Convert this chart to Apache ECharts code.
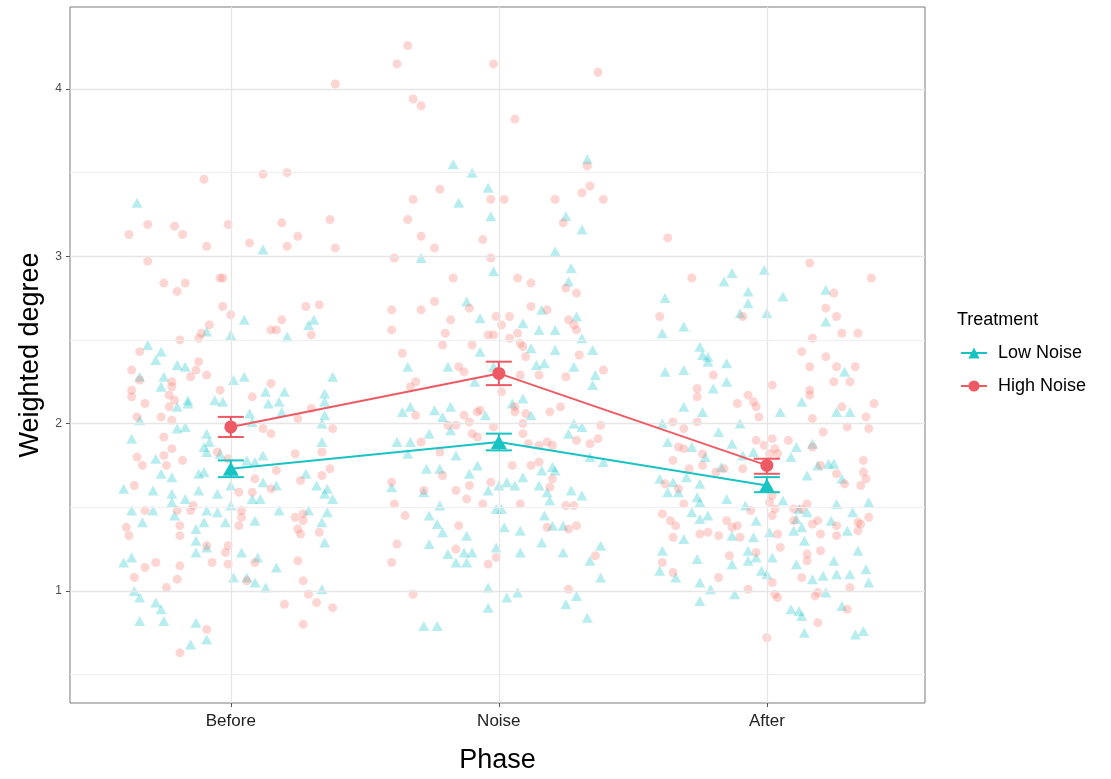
<!DOCTYPE html>
<html>
<head>
<meta charset="utf-8">
<script src="https://cdn.jsdelivr.net/npm/echarts@6/dist/echarts.min.js"></script>
<style>
html,body{margin:0;padding:0;background:#fff;}
#chart{width:1111px;height:779px;}
</style>
</head>
<body>
<div id="chart"></div>
<script>
// ---- Data ----
const phaseLabels = ['Before', 'Noise', 'After'];
const phasePos = [1, 2, 3];
const yTicks = [1, 2, 3, 4];
const yMinor = [0.5, 1.5, 2.5, 3.5];

const lowMean = [1.73, 1.89, 1.63];
const lowLo = [1.68, 1.84, 1.59];
const lowHi = [1.78, 1.94, 1.68];
const highMean = [1.98, 2.30, 1.75];
const highLo = [1.92, 2.23, 1.70];
const highHi = [2.04, 2.37, 1.79];

const beforeHigh = [[1.39,4.03],[0.90,3.46],[1.12,3.49],[1.21,3.50],[0.62,3.13],[0.69,3.19],[0.79,3.18],[0.82,3.13],[0.91,3.06],[0.99,3.19],[1.07,3.08],[1.19,3.20],[1.21,3.06],[1.25,3.12],[1.37,3.22],[1.39,3.05],[0.69,2.97],[0.75,2.84],[0.80,2.79],[0.83,2.84],[0.96,2.87],[0.97,2.87],[0.97,2.70],[1.00,2.65],[0.92,2.59],[0.81,2.50],[0.88,2.51],[0.89,2.54],[1.15,2.56],[1.17,2.56],[1.19,2.62],[1.28,2.70],[1.33,2.71],[1.30,2.53],[0.66,2.43],[0.63,2.32],[0.66,2.26],[0.63,2.20],[0.63,2.16],[0.68,2.12],[0.65,2.04],[0.74,2.04],[0.78,2.25],[0.78,2.22],[0.77,2.17],[0.79,2.14],[0.77,2.10],[0.78,2.02],[0.88,2.37],[0.87,2.32],[0.85,2.28],[0.91,2.29],[0.96,2.20],[1.08,2.16],[1.15,2.24],[1.25,2.03],[1.30,2.09],[1.38,1.97],[1.34,1.83],[1.37,1.73],[1.34,1.69],[1.26,1.66],[1.24,1.82],[1.15,1.61],[1.09,1.67],[1.08,1.59],[1.03,1.59],[0.95,1.83],[0.99,1.79],[0.78,1.85],[0.82,1.78],[0.75,1.81],[0.65,1.80],[0.67,1.75],[0.64,1.63],[0.76,1.75],[0.75,1.92],[1.12,1.97],[1.15,1.94],[1.17,1.72],[0.68,1.48],[0.80,1.48],[0.85,1.48],[0.86,1.51],[1.04,1.48],[1.27,1.46],[0.61,1.38],[0.62,1.33],[0.81,1.39],[0.81,1.33],[0.91,1.27],[0.99,1.27],[0.98,1.23],[1.04,1.44],[1.03,1.39],[0.72,1.17],[0.68,1.14],[0.64,1.08],[0.81,1.15],[0.80,1.07],[0.76,1.02],[0.93,1.17],[0.99,1.16],[1.06,1.06],[1.09,1.17],[1.24,1.44],[1.27,1.42],[1.25,1.37],[1.26,1.34],[1.33,1.35],[1.25,1.18],[1.27,1.06],[1.29,0.98],[1.32,0.93],[1.38,0.90],[1.20,0.92],[1.27,0.80],[0.91,0.77],[0.81,0.63]];

const beforeLow = [[0.65,3.32],[1.12,3.04],[1.05,2.62],[0.91,2.55],[1.00,2.53],[1.21,2.52],[1.29,2.59],[1.31,2.62],[0.69,2.47],[0.74,2.43],[0.72,2.38],[0.80,2.35],[0.83,2.34],[0.66,2.28],[0.75,2.28],[0.74,2.22],[0.84,2.14],[0.80,2.10],[0.84,2.12],[0.94,2.14],[0.97,2.13],[1.01,2.26],[1.05,2.28],[1.13,2.19],[1.20,2.19],[1.18,2.13],[1.14,2.12],[1.19,2.07],[1.38,2.28],[1.35,2.18],[1.35,2.13],[1.35,2.05],[1.34,2.00],[1.34,1.89],[1.07,2.06],[1.08,2.01],[0.66,2.02],[0.63,1.91],[0.83,1.98],[0.80,1.97],[0.91,1.94],[0.92,1.89],[0.90,1.86],[0.91,1.83],[0.96,1.82],[1.06,1.78],[1.12,1.81],[1.09,1.77],[0.72,1.79],[0.74,1.70],[0.78,1.68],[0.90,1.71],[0.88,1.70],[0.60,1.61],[0.71,1.60],[0.78,1.58],[0.83,1.55],[0.88,1.60],[0.95,1.58],[1.00,1.63],[1.12,1.65],[1.08,1.55],[1.11,1.55],[1.17,1.63],[1.28,1.70],[1.32,1.63],[1.36,1.61],[1.35,1.58],[1.38,1.55],[0.63,1.48],[0.71,1.48],[0.78,1.53],[0.91,1.48],[0.95,1.47],[1.00,1.51],[1.18,1.48],[1.29,1.48],[1.36,1.47],[0.67,1.41],[0.79,1.45],[0.87,1.37],[0.90,1.41],[0.98,1.41],[1.09,1.42],[1.34,1.41],[1.35,1.29],[0.87,1.30],[0.87,1.23],[0.91,1.26],[1.04,1.23],[1.10,1.20],[1.17,1.14],[1.01,1.08],[1.06,1.08],[1.09,1.05],[1.13,1.02],[0.60,1.17],[0.63,1.20],[0.64,1.00],[0.66,0.96],[0.72,0.93],[0.74,0.89],[0.66,0.82],[0.75,0.82],[0.87,0.81],[0.91,0.71],[0.85,0.68],[1.34,1.01]];

const noiseHigh = [[1.66,4.26],[1.62,4.15],[1.98,4.15],[2.37,4.10],[1.68,3.94],[1.71,3.90],[2.06,3.82],[2.33,3.54],[2.34,3.42],[2.31,3.38],[2.39,3.34],[2.21,3.34],[2.02,3.34],[1.97,3.34],[1.78,3.40],[1.68,3.34],[1.66,3.22],[1.71,3.12],[1.76,3.05],[1.94,3.10],[2.24,3.20],[1.61,2.99],[1.97,2.99],[1.83,2.87],[2.07,2.87],[2.12,2.84],[2.25,2.81],[2.29,2.78],[1.60,2.68],[1.71,2.68],[1.76,2.73],[1.89,2.69],[2.12,2.70],[2.18,2.68],[1.82,2.62],[1.99,2.64],[2.04,2.64],[2.01,2.59],[2.26,2.62],[2.28,2.59],[2.29,2.56],[1.60,2.56],[1.80,2.54],[1.96,2.53],[1.98,2.53],[2.07,2.54],[2.04,2.51],[2.08,2.48],[2.09,2.46],[1.79,2.47],[1.90,2.47],[1.64,2.42],[2.10,2.40],[2.30,2.41],[1.85,2.34],[1.87,2.31],[2.39,2.32],[2.08,2.29],[2.15,2.29],[2.25,2.28],[1.69,2.25],[1.67,2.22],[2.01,2.19],[1.93,2.08],[1.87,2.05],[1.69,2.05],[2.19,2.07],[2.23,2.10],[2.06,2.10],[2.06,2.07],[1.81,1.99],[1.84,1.99],[1.89,2.01],[1.92,2.07],[2.09,2.00],[2.09,1.94],[2.10,2.06],[2.38,1.99],[2.37,1.91],[2.34,1.88],[2.29,1.90],[1.71,1.89],[1.90,1.94],[1.92,1.92],[1.78,1.83],[1.98,1.98],[2.11,1.88],[2.15,1.87],[2.18,1.89],[2.20,1.87],[2.05,1.75],[2.12,1.75],[2.15,1.77],[2.20,1.67],[2.19,1.62],[1.79,1.69],[1.84,1.60],[1.89,1.63],[1.97,1.65],[1.72,1.60],[1.60,1.65],[1.61,1.52],[1.88,1.55],[1.94,1.52],[2.08,1.52],[2.25,1.51],[2.28,1.51],[1.65,1.45],[1.85,1.39],[2.18,1.38],[2.26,1.37],[2.29,1.39],[1.62,1.28],[1.84,1.25],[1.60,1.17],[1.99,1.20],[1.96,1.16],[2.36,1.21],[1.68,0.98],[2.26,1.01]];

const noiseLow = [[1.83,3.55],[1.90,3.50],[1.96,3.41],[1.85,3.32],[1.97,3.24],[2.33,3.58],[2.25,3.24],[2.31,3.16],[2.21,3.03],[1.71,2.99],[1.98,2.91],[2.27,2.93],[2.26,2.85],[1.88,2.73],[1.93,2.63],[2.09,2.60],[2.15,2.56],[2.21,2.56],[2.29,2.64],[2.16,2.68],[2.31,2.51],[2.35,2.44],[2.12,2.45],[2.21,2.44],[1.93,2.43],[2.14,2.35],[2.17,2.36],[2.28,2.34],[1.81,2.34],[1.66,2.34],[2.36,2.29],[2.35,2.23],[1.91,2.25],[1.98,2.34],[2.09,2.15],[1.67,2.10],[1.64,2.07],[1.76,2.08],[1.82,2.10],[2.05,2.12],[2.12,2.05],[1.95,2.05],[1.79,2.04],[1.62,1.89],[1.67,1.89],[1.74,1.94],[1.66,1.82],[1.73,1.73],[1.78,1.73],[1.84,1.81],[1.82,1.96],[1.92,1.75],[1.89,1.70],[1.96,1.60],[2.00,1.63],[2.03,1.65],[2.06,1.63],[2.09,1.68],[2.15,1.63],[2.18,1.59],[2.19,1.54],[2.16,1.72],[2.20,1.74],[2.21,1.72],[2.27,1.60],[2.31,1.57],[2.28,2.00],[2.31,1.98],[2.26,1.94],[2.34,1.80],[2.39,1.77],[1.60,1.62],[1.72,1.59],[1.78,1.51],[1.74,1.45],[1.77,1.40],[1.79,1.35],[1.88,1.33],[1.74,1.28],[1.81,1.22],[1.84,1.17],[1.87,1.23],[1.90,1.23],[1.88,1.17],[1.99,1.26],[1.99,1.49],[2.01,1.49],[2.02,1.38],[2.08,1.36],[2.08,1.23],[2.17,1.45],[2.16,1.29],[2.20,1.39],[2.24,1.39],[2.24,1.23],[2.34,1.18],[2.38,1.27],[2.38,1.08],[1.96,1.02],[1.96,0.90],[2.03,0.96],[2.07,0.99],[2.25,0.92],[2.29,0.97],[2.33,0.84],[1.72,0.79],[1.77,0.79]];

const afterHigh = [[2.63,3.11],[2.72,2.87],[3.16,2.96],[3.39,2.87],[3.25,2.78],[3.22,2.69],[3.26,2.64],[2.60,2.64],[2.91,2.64],[3.17,2.51],[3.28,2.54],[3.34,2.54],[3.13,2.43],[3.22,2.40],[3.16,2.34],[3.26,2.34],[3.33,2.34],[3.25,2.25],[3.31,2.25],[2.80,2.29],[2.74,2.21],[3.02,2.23],[3.16,2.20],[3.16,2.17],[2.74,2.16],[2.93,2.17],[2.95,2.13],[2.96,2.10],[2.89,2.12],[3.28,2.10],[3.40,2.12],[3.37,2.04],[3.38,1.97],[3.30,1.98],[3.17,2.03],[3.21,1.95],[2.97,2.04],[2.74,2.01],[2.65,2.01],[2.69,1.97],[2.96,1.90],[3.02,1.91],[3.08,1.90],[2.99,1.87],[3.03,1.85],[3.04,1.82],[3.01,1.82],[2.67,1.86],[2.69,1.85],[2.76,1.82],[2.65,1.78],[2.76,1.75],[2.81,1.71],[2.71,1.73],[2.84,1.73],[2.91,1.73],[3.17,1.86],[3.20,1.75],[3.36,1.78],[3.26,1.70],[3.36,1.71],[3.37,1.67],[3.29,1.64],[3.35,1.63],[2.67,1.61],[2.62,1.64],[2.69,1.52],[3.02,1.57],[3.01,1.53],[3.03,1.49],[3.15,1.52],[3.13,1.49],[2.94,1.48],[2.61,1.46],[2.64,1.42],[2.66,1.39],[2.85,1.42],[2.89,1.39],[3.02,1.45],[3.10,1.49],[3.19,1.42],[3.38,1.44],[3.35,1.40],[3.17,1.40],[2.65,1.32],[2.75,1.34],[2.78,1.35],[2.82,1.33],[2.87,1.38],[2.90,1.32],[2.86,1.21],[3.04,1.34],[3.05,1.26],[3.10,1.42],[3.20,1.34],[3.15,1.22],[3.15,1.18],[3.20,1.24],[3.26,1.39],[3.26,1.33],[3.34,1.41],[3.34,1.36],[2.61,1.17],[2.65,1.11],[2.82,1.08],[2.96,1.23],[2.93,1.01],[3.02,1.05],[3.03,0.98],[3.04,0.96],[3.13,1.08],[3.18,0.97],[3.19,0.99],[3.31,1.02],[3.30,0.89],[3.19,0.81],[3.00,0.72]];

const afterLow = [[2.87,2.90],[2.84,2.85],[2.99,2.92],[2.93,2.79],[2.93,2.72],[2.90,2.66],[3.00,2.66],[3.06,2.76],[3.22,2.80],[3.22,2.61],[2.62,2.75],[2.69,2.58],[2.61,2.54],[2.75,2.46],[2.76,2.41],[2.78,2.40],[2.78,2.37],[2.85,2.36],[2.62,2.31],[2.69,2.32],[2.85,2.25],[2.80,2.21],[3.29,2.31],[2.69,2.10],[2.76,2.07],[3.05,2.07],[3.13,2.13],[3.26,2.07],[3.31,2.07],[2.61,2.00],[2.82,1.95],[2.90,2.00],[2.63,1.89],[2.72,1.86],[2.87,1.88],[2.91,1.81],[3.11,1.86],[3.17,1.88],[3.09,1.80],[2.95,1.83],[2.77,1.80],[2.83,1.74],[3.15,1.69],[3.19,1.75],[3.23,1.76],[3.25,1.76],[3.28,1.67],[2.60,1.67],[2.65,1.65],[2.70,1.68],[2.75,1.64],[2.63,1.59],[2.67,1.59],[2.74,1.56],[2.75,1.53],[2.85,1.55],[2.92,1.51],[3.06,1.54],[3.12,1.49],[3.26,1.52],[3.38,1.53],[2.72,1.47],[2.78,1.45],[2.75,1.43],[2.96,1.42],[3.11,1.43],[3.15,1.47],[3.24,1.42],[3.32,1.47],[2.69,1.31],[2.61,1.24],[2.74,1.19],[2.60,1.12],[2.66,1.08],[2.75,1.05],[2.79,1.01],[2.75,0.94],[2.88,0.98],[2.87,1.33],[2.95,1.32],[2.93,1.24],[2.93,1.18],[2.96,1.20],[2.87,1.16],[2.98,1.12],[3.01,1.35],[3.02,1.20],[3.00,1.10],[3.10,1.36],[3.13,1.38],[3.14,1.30],[3.11,1.16],[3.17,1.07],[3.22,0.99],[3.21,1.09],[3.26,1.10],[3.25,1.18],[3.31,1.10],[3.34,1.24],[3.37,1.13],[3.38,1.05],[3.30,1.36],[3.28,0.91],[3.09,0.89],[3.12,0.88],[3.13,0.85],[3.14,0.75],[3.33,0.74],[3.36,0.76]];

// ---- Styles ----
const TEAL = '#19C3C3';
const RED = '#EE5A63';
const TEAL_PT = '#00BFC4';
const RED_PT = '#F8766D';
const FONT = '"Liberation Sans", Arial, Helvetica, sans-serif';

const chart = echarts.init(document.getElementById('chart'), null, {renderer: 'canvas'});

function errBarSeries(name, lo, hi, color) {
  return {
    name: name + ' err',
    type: 'custom',
    z: 6,
    silent: true,
    data: phasePos.map((p, i) => [p, lo[i], hi[i]]),
    renderItem: function (params, api) {
      const x = api.value(0);
      const a = api.coord([x, api.value(1)]);
      const b = api.coord([x, api.value(2)]);
      const hw = 13;
      const st = {stroke: color, lineWidth: 2};
      return {
        type: 'group',
        children: [
          {type: 'line', shape: {x1: a[0], y1: a[1], x2: b[0], y2: b[1]}, style: st},
          {type: 'line', shape: {x1: a[0] - hw, y1: a[1], x2: a[0] + hw, y2: a[1]}, style: st},
          {type: 'line', shape: {x1: b[0] - hw, y1: b[1], x2: b[0] + hw, y2: b[1]}, style: st}
        ]
      };
    }
  };
}

const gridLines = [];
phasePos.forEach(p => gridLines.push({xAxis: p, lineStyle: {color: '#e6e6e6', width: 1.3, type: 'solid'}}));
yTicks.forEach(v => gridLines.push({yAxis: v, lineStyle: {color: '#e6e6e6', width: 1.3, type: 'solid'}}));
yMinor.forEach(v => gridLines.push({yAxis: v, lineStyle: {color: '#efefef', width: 1, type: 'solid'}}));

const option = {
  backgroundColor: '#ffffff',
  animation: false,
  textStyle: {fontFamily: FONT},
  grid: {left: 70, right: 186, top: 7, bottom: 74, show: true, borderColor: '#7a7a7a', borderWidth: 1, backgroundColor: '#fff', containLabel: false},
  xAxis: {
    type: 'value', min: 0.4, max: 3.59,
    name: 'Phase', nameLocation: 'middle', nameGap: 44,
    nameTextStyle: {fontSize: 27, color: '#000', fontFamily: FONT},
    axisLine: {show: false},
    axisTick: {show: true, length: 4, customValues: phasePos, lineStyle: {color: '#555'}},
    axisLabel: {customValues: phasePos, formatter: v => phaseLabels[Math.round(v) - 1], fontSize: 17, color: '#222', margin: 10, fontFamily: FONT},
    splitLine: {show: false}
  },
  yAxis: {
    type: 'value', min: 0.33, max: 4.49,
    name: 'Weighted degree', nameLocation: 'middle', nameGap: 22, nameRotate: 90,
    nameTextStyle: {fontSize: 27, color: '#000', fontFamily: FONT},
    axisLine: {show: false},
    axisTick: {show: true, length: 4, customValues: yTicks, lineStyle: {color: '#555'}},
    axisLabel: {customValues: yTicks, fontSize: 12, color: '#4d4d4d', margin: 8, fontFamily: FONT},
    splitLine: {show: false}
  },
  legend: {
    orient: 'vertical', left: 955, top: 339, itemGap: 15, padding: 5,
    itemWidth: 26, itemHeight: 14,
    textStyle: {fontSize: 18, color: '#000', fontFamily: FONT, padding: [0, 0, 0, 6]},
    data: ['Low Noise', 'High Noise']
  },
  graphic: [{
    type: 'text', left: 957, top: 311,
    style: {text: 'Treatment', fontSize: 18, fill: '#000', fontFamily: FONT}
  }],
  series: [
    {
      name: 'grid', type: 'scatter', data: [], z: 0, silent: true,
      markLine: {silent: true, symbol: ['none', 'none'], label: {show: false}, animation: false, data: gridLines}
    },
    {name: 'Low pts Before', type: 'scatter', data: beforeLow, symbol: 'triangle', symbolSize: [11, 10], itemStyle: {color: TEAL_PT, opacity: 0.28}, z: 2, silent: true},
    {name: 'Low pts Noise', type: 'scatter', data: noiseLow, symbol: 'triangle', symbolSize: [11, 10], itemStyle: {color: TEAL_PT, opacity: 0.28}, z: 2, silent: true},
    {name: 'Low pts After', type: 'scatter', data: afterLow, symbol: 'triangle', symbolSize: [11, 10], itemStyle: {color: TEAL_PT, opacity: 0.28}, z: 2, silent: true},
    {name: 'High pts Before', type: 'scatter', data: beforeHigh, symbol: 'circle', symbolSize: 9, itemStyle: {color: RED_PT, opacity: 0.3}, z: 2, silent: true},
    {name: 'High pts Noise', type: 'scatter', data: noiseHigh, symbol: 'circle', symbolSize: 9, itemStyle: {color: RED_PT, opacity: 0.3}, z: 2, silent: true},
    {name: 'High pts After', type: 'scatter', data: afterHigh, symbol: 'circle', symbolSize: 9, itemStyle: {color: RED_PT, opacity: 0.3}, z: 2, silent: true},
    errBarSeries('Low Noise', lowLo, lowHi, TEAL),
    errBarSeries('High Noise', highLo, highHi, RED),
    {
      name: 'Low Noise', type: 'line', z: 7,
      data: phasePos.map((p, i) => [p, lowMean[i]]),
      symbol: 'triangle', symbolSize: [16, 14],
      lineStyle: {color: TEAL, width: 2},
      itemStyle: {color: TEAL}
    },
    {
      name: 'High Noise', type: 'line', z: 7,
      data: phasePos.map((p, i) => [p, highMean[i]]),
      symbol: 'circle', symbolSize: 13,
      lineStyle: {color: RED, width: 2},
      itemStyle: {color: RED}
    }
  ]
};
chart.setOption(option);
</script>
</body>
</html>
